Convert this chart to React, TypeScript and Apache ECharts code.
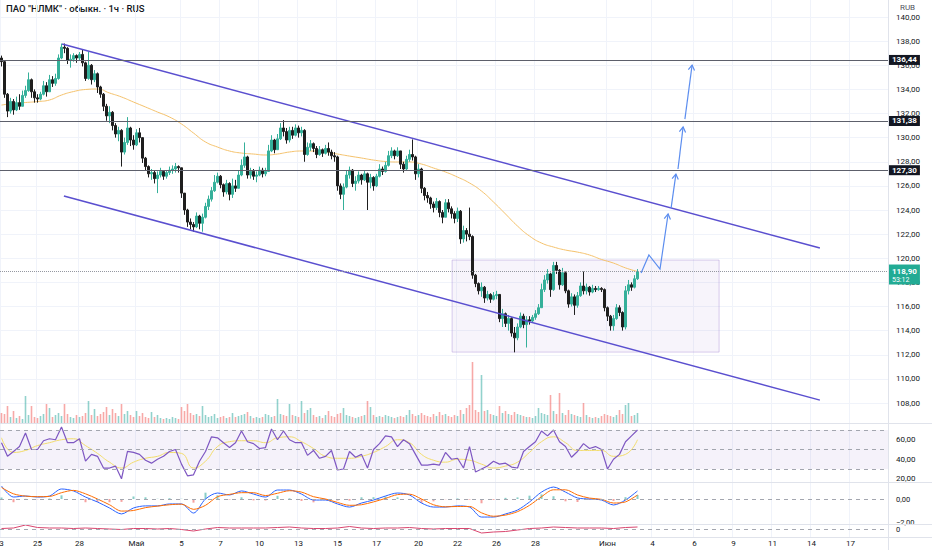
import React, { useEffect, useRef } from "react";
import * as echarts from "echarts";

// ---------- data ----------
const TOTAL_SLOTS = 296; // candle slots incl. future space
const firstOpen = 136.6;
const closes = [
  136.3,133.6,132.2,133.0,132.3,132.9,132.6,133.5,133.9,134.8,133.8,133.3,133.2,133.6,134.3,133.8,134.8,134.5,134.9,136.6,
  137.5,137.4,136.4,136.5,136.8,136.6,136.9,136.2,134.9,136.0,134.8,135.3,134.2,133.6,132.6,131.8,132.1,131.0,130.3,130.6,
  128.8,129.6,130.8,129.8,129.4,130.4,130.0,128.3,127.6,127.0,127.1,126.6,126.9,127.2,126.8,127.1,127.3,127.4,127.6,127.5,
  125.4,124.0,123.0,122.8,122.6,123.5,122.9,123.4,124.3,124.9,125.6,126.3,126.8,126.1,125.5,126.2,125.3,126.0,125.8,126.9,
  127.7,128.4,126.9,127.2,126.8,126.9,127.3,127.0,127.2,128.9,129.8,129.0,129.9,130.8,130.5,129.8,130.6,130.2,130.8,130.4,
  130.6,128.6,129.2,129.5,129.1,128.6,129.0,128.7,129.1,128.8,128.5,128.4,126.0,125.3,125.9,126.9,127.3,126.2,126.4,126.9,
  126.5,127.0,126.3,126.7,126.0,126.8,127.4,127.2,127.7,128.5,128.9,128.5,128.9,127.8,127.4,128.2,128.6,128.4,127.0,127.4,
  125.8,125.2,125.0,124.5,124.2,124.7,123.8,123.4,124.6,124.1,123.7,123.3,123.9,121.6,122.3,122.0,121.8,118.6,117.9,117.3,
  117.6,116.7,117.0,116.6,116.9,117.0,115.0,115.4,114.6,115.0,113.8,113.4,114.3,115.2,114.5,114.9,114.8,115.1,115.4,115.9,
  117.4,118.2,118.7,117.4,119.4,119.0,117.8,118.8,117.3,116.2,116.8,116.1,116.9,117.7,117.3,117.6,117.2,117.5,117.4,117.5,
  117.4,115.9,115.2,114.4,115.0,115.9,115.5,114.3,117.3,117.8,117.6,118.3,118.9
];
const highs = [
  136.8,136.4,133.7,133.3,133.2,133.4,133.6,133.9,134.3,135.4,134.9,134.0,133.6,133.8,134.7,134.6,135.2,135.1,135.3,136.9,
  137.8,137.8,137.5,136.9,137.0,136.9,137.1,137.3,136.3,137.1,136.1,135.6,135.4,134.3,133.7,132.8,132.6,132.2,131.2,130.9,
  130.7,130.0,131.7,130.9,130.2,130.7,130.8,130.0,128.4,127.7,127.4,127.3,127.2,127.5,127.3,127.3,127.6,127.7,127.9,127.7,
  127.5,125.4,124.1,123.3,123.0,123.8,123.6,123.7,124.6,125.2,125.9,126.9,127.1,126.9,126.2,126.5,126.3,126.6,126.5,127.3,
  128.2,129.6,128.5,127.5,127.4,127.2,127.6,127.5,127.5,129.4,130.2,129.9,130.3,131.2,131.45,130.8,130.9,130.9,131.1,131.0,
  130.9,130.7,129.6,129.8,129.6,129.3,129.3,129.1,129.4,129.6,129.0,128.8,128.5,126.2,126.2,127.3,127.6,127.4,126.8,127.2,
  127.0,127.3,127.1,127.0,126.8,127.0,127.8,127.6,128.0,128.9,129.2,129.0,129.2,128.9,128.0,128.5,129.0,129.85,128.5,127.8,
  127.5,125.9,125.5,125.1,124.7,125.0,124.8,124.0,124.9,124.9,124.3,123.9,124.2,124.0,122.7,122.5,124.2,121.9,118.7,118.0,
  118.0,117.7,117.3,117.1,117.2,117.3,117.0,115.8,115.5,115.3,115.1,114.3,114.6,115.5,115.4,115.2,115.2,115.3,115.7,116.2,
  117.9,118.6,119.1,118.8,119.7,119.7,119.1,119.2,118.9,117.4,117.1,117.0,117.2,118.0,118.9,117.9,117.7,117.8,117.7,117.7,
  117.6,117.5,116.0,115.3,115.3,116.2,116.1,115.6,117.7,118.2,118.0,118.6,119.1
];
const lows = [
  135.9,133.3,131.7,132.0,131.9,132.2,132.3,132.6,133.3,133.8,133.3,132.9,132.9,133.1,133.5,133.4,133.9,134.2,134.3,134.8,
  136.5,137.0,136.1,135.8,136.3,136.2,136.4,135.9,134.7,134.8,134.4,134.6,133.7,133.3,132.2,131.4,131.2,130.6,130.0,129.7,
  127.6,128.6,129.4,129.3,129.0,129.3,129.6,127.9,127.3,126.7,126.5,126.2,125.4,126.7,126.5,126.6,126.9,127.0,127.1,127.1,
  125.0,123.6,122.6,122.4,122.2,122.5,122.4,122.2,123.3,124.0,124.7,125.5,126.2,125.8,125.1,125.3,124.8,125.0,125.5,125.8,
  126.8,127.5,126.6,126.6,126.5,126.3,126.8,126.7,126.8,127.2,128.8,128.7,129.0,129.8,130.1,129.5,129.6,129.9,130.1,130.0,
  130.1,128.0,128.5,128.9,128.8,128.3,128.5,128.4,128.6,128.5,128.2,128.0,125.6,124.9,124.0,125.8,126.6,125.9,125.6,126.2,
  126.1,126.4,124.0,125.8,125.6,125.9,126.7,126.9,127.1,127.6,128.3,128.2,128.4,127.4,127.1,127.3,128.0,128.1,126.5,126.7,
  125.4,124.8,124.6,124.1,123.8,124.0,123.4,122.9,123.4,123.8,123.3,122.9,123.0,121.2,121.3,121.4,121.5,118.3,117.6,117.0,
  116.8,116.3,116.5,116.3,116.5,116.6,114.7,114.3,114.3,114.0,113.5,112.2,113.2,114.2,114.2,112.6,114.5,114.7,114.9,115.3,
  115.9,117.2,117.9,116.8,117.3,118.7,117.4,117.7,117.1,115.9,116.0,115.3,115.9,116.8,117.0,117.0,116.9,117.1,117.2,117.3,
  117.2,115.6,114.8,114.0,114.0,114.9,115.2,114.0,114.1,117.0,117.3,117.5,118.2
];
const volumes = [
  10,9,17,6,12,5,7,4,27,8,17,6,5,7,9,19,15,6,8,10,
  7,19,9,6,5,8,6,7,10,22,8,14,7,9,11,16,8,14,10,7,
  19,9,12,8,6,12,7,10,6,5,11,6,8,5,4,5,4,6,5,4,
  16,12,19,10,8,9,7,17,8,6,7,9,5,6,7,5,6,10,6,7,
  8,9,11,7,5,6,5,6,9,8,6,7,24,9,8,7,19,8,7,6,
  22,10,13,15,8,6,7,5,8,12,7,6,9,10,15,8,7,6,5,6,
  7,8,22,16,8,6,7,6,8,7,6,5,6,7,6,8,13,9,7,8,
  10,8,7,6,9,7,11,8,9,7,6,8,7,13,9,15,18,61,13,11,
  48,12,13,9,8,7,17,10,12,9,8,11,9,8,7,6,6,5,7,15,
  10,9,8,28,12,9,30,10,8,13,9,8,7,6,20,8,6,5,6,5,
  7,9,8,7,6,8,13,9,18,20,7,8,10
];
// moving average on price, one value every 4 candles
const maValues = [
  132.70,132.83,132.91,132.99,133.12,133.53,133.82,133.99,134.03,133.70,133.37,132.95,132.54,132.12,131.71,131.13,130.38,129.64,
  129.22,128.89,128.72,128.64,128.56,128.64,128.81,128.89,128.89,128.81,128.64,128.47,128.31,128.14,128.02,127.98,127.98,127.81,
  127.48,127.15,126.73,126.24,125.57,124.66,123.67,122.67,121.84,121.26,120.93,120.68,120.51,120.27,119.90,119.60,119.20,118.90
];
// RSI, one value every 2 candles
const rsiValues = [
  57,43,48,53,67,50,50,59,61,60,73,57,57,61,38,45,43,31,31,33,20,48,47,45,39,36,40,43,48,50,
  35,23,24,38,48,63,62,57,52,57,69,58,56,51,52,71,60,69,60,57,57,44,49,41,43,49,29,30,48,42,
  45,31,50,56,64,63,53,60,56,45,34,34,35,34,47,40,41,31,53,27,30,33,38,35,36,32,31,48,53,58,
  69,64,70,58,53,42,48,56,51,53,50,30,40,45,58,64,70
];
// RSI moving average, one value every 4 candles
const rsiMaValues = [
  62,47,49,54,57,60,61,54,46,37,31,37,41,43,47,46,31,38,53,58,59,59,57,62,63,58,51,
  43,41,41,43,47,53,60,57,45,39,37,40,39,35,31,33,37,47,58,63,57,49,49,49,43,45,60
];
// MACD and signal, one value every 4 candles
const macdValues = [
  1.13,0.17,0.26,0.17,0.26,0.87,0.70,0.17,-0.26,-0.78,-1.30,-0.78,-0.60,-0.60,-0.43,-0.43,-1.22,0.00,
  0.52,0.35,0.70,0.43,0.17,0.78,0.78,0.43,-0.09,-0.09,-0.43,-0.70,-0.35,-0.09,0.26,0.52,0.35,-0.35,
  -0.70,-0.70,-0.60,-0.70,-1.57,-1.57,-1.30,-0.96,-0.26,0.60,1.04,0.60,0.09,0.00,-0.09,-0.52,-0.09,0.70
];
const signalValues = [
  1.00,0.45,0.25,0.20,0.22,0.55,0.75,0.45,0.00,-0.50,-1.05,-1.00,-0.75,-0.62,-0.50,-0.45,-0.90,-0.55,
  0.20,0.40,0.55,0.55,0.30,0.50,0.72,0.60,0.20,0.00,-0.30,-0.55,-0.50,-0.25,0.05,0.38,0.42,0.00,
  -0.50,-0.68,-0.65,-0.65,-1.20,-1.50,-1.40,-1.10,-0.55,0.20,0.80,0.80,0.35,0.08,-0.03,-0.35,-0.25,0.35
];
// bottom oscillator, one value every 4 candles
const oscValues = [
  0.5,1,4,1.5,1,1,0.5,1,0.5,0,-0.5,0.5,0.5,0,0.5,-0.5,-2,0,1.5,1,1,1,1,1.5,2,1,0.5,
  0.5,1,2.5,1,0.5,1,1,1.5,0.5,0,0.5,0.5,0.5,-4,-3,-2.5,-1,0.5,1,2,1.5,1,1,1,0.5,1.5,2
];
const levels = [136.44, 131.38, 127.3];
const lastPrice = 118.9;
const countdown = "53:12";
const timeLabels: [number, string][] = [
  [0, "3"], [12, "25"], [26, "28"], [45, "Май"], [60, "5"], [73, "7"], [86, "10"], [99, "13"],
  [112, "15"], [125, "17"], [139, "20"], [152, "22"], [165, "26"], [178, "28"], [202, "Июн"],
  [217, "4"], [231, "6"], [244, "9"], [257, "11"], [270, "14"], [283, "17"]
];
// drawings, in (candle slot, price)
const channelUpper = [[20.2, 137.76], [272.8, 120.85]];
const channelLower = [[20.8, 125.16], [272.8, 108.24]];
const rangeBox = [[150.2, 119.85], [239.2, 112.22]];
const arrowPaths = [
  [[213.2, 118.77], [215.8, 120.27], [219.5, 119.1], [222.2, 123.67]],
  [[223.2, 124.16], [224.8, 126.98]],
  [[225.5, 127.4], [227.2, 130.88]],
  [[227.8, 131.54], [230.2, 136.02]]
];
const title = 'ПАО "НЛМК" · обыкн. · 1ч · RUS';

// ---------- helpers ----------
const fmt = (v: number) => v.toFixed(2).replace(".", ",").replace("-", "\u2212");
const sparse = (vals: number[], step: number) => {
  const a: (number | null)[] = new Array(closes.length).fill(null);
  vals.forEach((v, k) => { a[k * step] = v; });
  return a;
};

export default function App() {
  const ref = useRef<HTMLDivElement>(null);
  useEffect(() => {
    if (!ref.current) return;
    const chart = echarts.init(ref.current, undefined, { renderer: "svg" });
    const cats = Array.from({ length: TOTAL_SLOTS }, (_, i) => String(i));
    const labelMap = new Map(timeLabels);
    const candles = closes.map((c, i) => {
      const o = i === 0 ? firstOpen : closes[i - 1];
      return [o, c, Math.min(lows[i], o, c), Math.max(highs[i], o, c)];
    });
    const volData = volumes.map((v, i) => ({
      value: v,
      itemStyle: { color: candles[i][1] >= candles[i][0] ? "rgba(38,166,154,0.5)" : "rgba(239,83,80,0.5)" }
    }));
    const hist = sparse(macdValues.map((m, k) => +(m - signalValues[k]).toFixed(2)), 4).map((v) =>
      v === null ? null : { value: v, itemStyle: { color: v >= 0 ? "rgba(38,166,154,0.55)" : "rgba(239,83,80,0.55)" } }
    );
    const axisText = { fontSize: 8, lineHeight: 8, color: "#131722", fontFamily: "Roboto" };
    const W = 888;
    const grid = (top: number, height: number) => ({ left: 0, width: W, top, height, outerBoundsMode: "none" });
    const catAxis = (gridIndex: number) => ({ type: "category", gridIndex, data: cats, show: false, boundaryGap: true });
    const hiddenVal = (gridIndex: number, min: number, max: number) => ({
      type: "value", gridIndex, min, max, show: false, splitLine: { show: false }
    });
    const rightAxis = (gridIndex: number, min: number, max: number, interval: number, keep: (v: number) => string, size = 8) => ({
      type: "value", gridIndex, min, max, interval, position: "right",
      axisLine: { show: false }, axisTick: { show: false },
      axisLabel: { ...axisText, fontSize: size, lineHeight: size, margin: 8, formatter: (v: number) => keep(v) },
      splitLine: { show: false }
    });
    const labelBox = (text: string) => ({
      show: true, position: "end", distance: 1, formatter: text,
      backgroundColor: "#131722", color: "#ffffff", fontSize: 8, fontWeight: "bold",
      fontFamily: "Roboto", padding: [1, 3, 1, 3]
    });
    const sepColor = "#e0e3eb";

    const option: any = {
      animation: false,
      backgroundColor: "#ffffff",
      textStyle: { fontFamily: "Roboto" },
      grid: [grid(0, 537), grid(-7.12, 410.12), grid(323, 100), grid(420.25, 78), grid(476, 69), grid(525, 12)],
      xAxis: [
        {
          type: "category", gridIndex: 0, data: cats, boundaryGap: true,
          axisLine: { show: false }, axisTick: { show: false },
          axisLabel: {
            ...axisText, margin: 2,
            interval: (i: number) => labelMap.has(i),
            formatter: (v: string) => labelMap.get(Number(v)) ?? ""
          },
          splitLine: { show: true, interval: (i: number) => labelMap.has(i), lineStyle: { color: "#f0f3fa", width: 1 } }
        },
        catAxis(1),
        { type: "value", gridIndex: 1, min: -0.5, max: TOTAL_SLOTS - 0.5, show: false, splitLine: { show: false } },
        catAxis(2), catAxis(3), catAxis(4), catAxis(5)
      ],
      yAxis: [
        hiddenVal(0, 0, 1),
        {
          type: "value", gridIndex: 1, min: 108, max: 142, interval: 2, position: "right",
          axisLine: { show: false }, axisTick: { show: false },
          axisLabel: { ...axisText, margin: 8, formatter: (v: number) => (v >= 142 ? "" : fmt(v)) },
          splitLine: { show: true, lineStyle: { color: "#f0f3fa" } }
        },
        hiddenVal(2, 0, 100),
        rightAxis(3, 0, 80, 20, (v) => (v > 0 && v < 80 ? fmt(v) : "")),
        rightAxis(4, -4, 2, 2, (v) => (v === 0 || v === -2 ? fmt(v) : ""), 7.5),
        rightAxis(5, -8, 4, 4, (v) => (v === 0 ? "0" : ""), 7.5)
      ],
      graphic: [
        { type: "text", left: 6, top: 3, style: { text: title, fontSize: 9.5, fill: "#131722", fontFamily: "Roboto", fontWeight: 500 } },
        { type: "text", left: 900, top: 3, style: { text: "RUB", fontSize: 8, fill: "#50535e", fontFamily: "Roboto" } },
        { type: "line", shape: { x1: 888.5, y1: 0, x2: 888.5, y2: 550 }, style: { stroke: sepColor, lineWidth: 1 }, z: 100 },
        { type: "line", shape: { x1: 0, y1: 423.5, x2: 932, y2: 423.5 }, style: { stroke: sepColor, lineWidth: 1 }, z: 100 },
        { type: "line", shape: { x1: 0, y1: 482.5, x2: 932, y2: 482.5 }, style: { stroke: sepColor, lineWidth: 1 }, z: 100 },
        { type: "line", shape: { x1: 0, y1: 524.5, x2: 932, y2: 524.5 }, style: { stroke: sepColor, lineWidth: 1 }, z: 100 },
        { type: "line", shape: { x1: 0, y1: 537.5, x2: 932, y2: 537.5 }, style: { stroke: sepColor, lineWidth: 1 }, z: 100 }
      ],
      series: [
        {
          type: "custom", xAxisIndex: 2, yAxisIndex: 1, z: 1, silent: true,
          data: [rangeBox[0]],
          renderItem: (_p: any, api: any) => {
            const a = api.coord(rangeBox[0]);
            const b = api.coord(rangeBox[1]);
            return {
              type: "rect",
              shape: { x: a[0], y: a[1], width: b[0] - a[0], height: b[1] - a[1] },
              style: { fill: "rgba(149,117,205,0.08)", stroke: "rgba(149,117,205,0.35)", lineWidth: 1 }
            };
          }
        },
        {
          type: "candlestick", xAxisIndex: 1, yAxisIndex: 1, z: 3, barWidth: 2,
          data: candles,
          itemStyle: { color: "#35b09a", color0: "#1e1e1e", borderColor: "#35b09a", borderColor0: "#1e1e1e", borderWidth: 1 },
          markLine: {
            silent: true, symbol: ["none", "none"], animation: false,
            data: [
              ...levels.map((v) => ({
                yAxis: v, lineStyle: { color: "#5d606b", width: 1, type: "solid" }, label: labelBox(fmt(v))
              })),
              {
                yAxis: lastPrice,
                lineStyle: { color: "#9598a1", width: 1, type: "dotted" },
                label: {
                  show: true, position: "end", distance: 1,
                  formatter: "{a|" + fmt(lastPrice) + "}\n{b|" + countdown + "}",
                  backgroundColor: "#22ab94", padding: [2, 3, 1, 3], offset: [0, 3],
                  rich: {
                    a: { fontSize: 8, fontWeight: "bold", color: "#ffffff", lineHeight: 9, fontFamily: "Roboto" },
                    b: { fontSize: 7, color: "#ffffff", lineHeight: 8, fontFamily: "Roboto" }
                  }
                }
              }
            ]
          }
        },
        {
          type: "line", xAxisIndex: 1, yAxisIndex: 1, z: 2, data: sparse(maValues, 4), connectNulls: true,
          smooth: true, showSymbol: false, symbol: "none", lineStyle: { color: "#f5c26b", width: 1 }, silent: true
        },
        {
          type: "line", xAxisIndex: 2, yAxisIndex: 1, z: 4, data: channelUpper, symbol: "none",
          lineStyle: { color: "#5a4fcf", width: 1.5 }, silent: true
        },
        {
          type: "line", xAxisIndex: 2, yAxisIndex: 1, z: 4, data: channelLower, symbol: "none",
          lineStyle: { color: "#5a4fcf", width: 1.5 }, silent: true
        },
        {
          type: "custom", xAxisIndex: 2, yAxisIndex: 1, z: 5, silent: true,
          data: arrowPaths.map((p) => p[p.length - 1]),
          renderItem: (params: any, api: any) => {
            const path = arrowPaths[params.dataIndex];
            const pts = path.map((p) => api.coord(p));
            const n = pts.length;
            const [x2, y2] = pts[n - 1];
            const [x1, y1] = pts[n - 2];
            const ang = Math.atan2(y2 - y1, x2 - x1);
            const L = 6, s = 0.55;
            const h1 = [x2 - L * Math.cos(ang - s), y2 - L * Math.sin(ang - s)];
            const h2 = [x2 - L * Math.cos(ang + s), y2 - L * Math.sin(ang + s)];
            const st = { stroke: "#5b8def", lineWidth: 1.2, fill: null };
            return {
              type: "group",
              children: [
                { type: "polyline", shape: { points: pts }, style: st },
                { type: "polyline", shape: { points: [h1, [x2, y2], h2] }, style: st }
              ]
            };
          }
        },
        {
          type: "bar", xAxisIndex: 3, yAxisIndex: 2, data: volData, barWidth: 1.6, silent: true
        },
        {
          type: "line", xAxisIndex: 4, yAxisIndex: 3, data: sparse(rsiValues, 2), connectNulls: true,
          symbol: "none", lineStyle: { color: "#7e57c2", width: 1.2 }, silent: true, z: 4,
          markArea: {
            silent: true,
            itemStyle: { color: "rgba(126,87,194,0.08)" },
            data: [[{ yAxis: 70 }, { yAxis: 30 }]]
          },
          markLine: {
            silent: true, symbol: ["none", "none"], label: { show: false },
            lineStyle: { color: "#a3a6af", type: [4, 4], width: 1 },
            data: [{ yAxis: 70 }, { yAxis: 50 }, { yAxis: 30 }]
          }
        },
        {
          type: "line", xAxisIndex: 4, yAxisIndex: 3, data: sparse(rsiMaValues, 4), connectNulls: true,
          smooth: true, symbol: "none", lineStyle: { color: "#f2dc6b", width: 1 }, silent: true, z: 3
        },
        {
          type: "bar", xAxisIndex: 5, yAxisIndex: 4, data: hist, barWidth: 2, silent: true
        },
        {
          type: "line", xAxisIndex: 5, yAxisIndex: 4, data: sparse(macdValues, 4), connectNulls: true,
          smooth: 0.3, symbol: "none", lineStyle: { color: "#2962ff", width: 1 }, silent: true,
          markLine: {
            silent: true, symbol: ["none", "none"], label: { show: false },
            lineStyle: { color: "#a3a6af", type: [4, 4], width: 1 },
            data: [{ yAxis: 0 }]
          }
        },
        {
          type: "line", xAxisIndex: 5, yAxisIndex: 4, data: sparse(signalValues, 4), connectNulls: true,
          smooth: 0.3, symbol: "none", lineStyle: { color: "#ff6d00", width: 1 }, silent: true
        },
        {
          type: "line", xAxisIndex: 6, yAxisIndex: 5, data: sparse(oscValues, 4), connectNulls: true,
          symbol: "none", lineStyle: { color: "#d9466f", width: 1 }, silent: true,
          markLine: {
            silent: true, symbol: ["none", "none"], label: { show: false },
            lineStyle: { color: "#a3a6af", type: [4, 4], width: 1 },
            data: [{ yAxis: 0 }]
          }
        }
      ]
    };
    chart.setOption(option);
    return () => chart.dispose();
  }, []);
  return <div ref={ref} style={{ position: "fixed", left: 0, top: 0, width: 932, height: 550, background: "#fff" }} />;
}
